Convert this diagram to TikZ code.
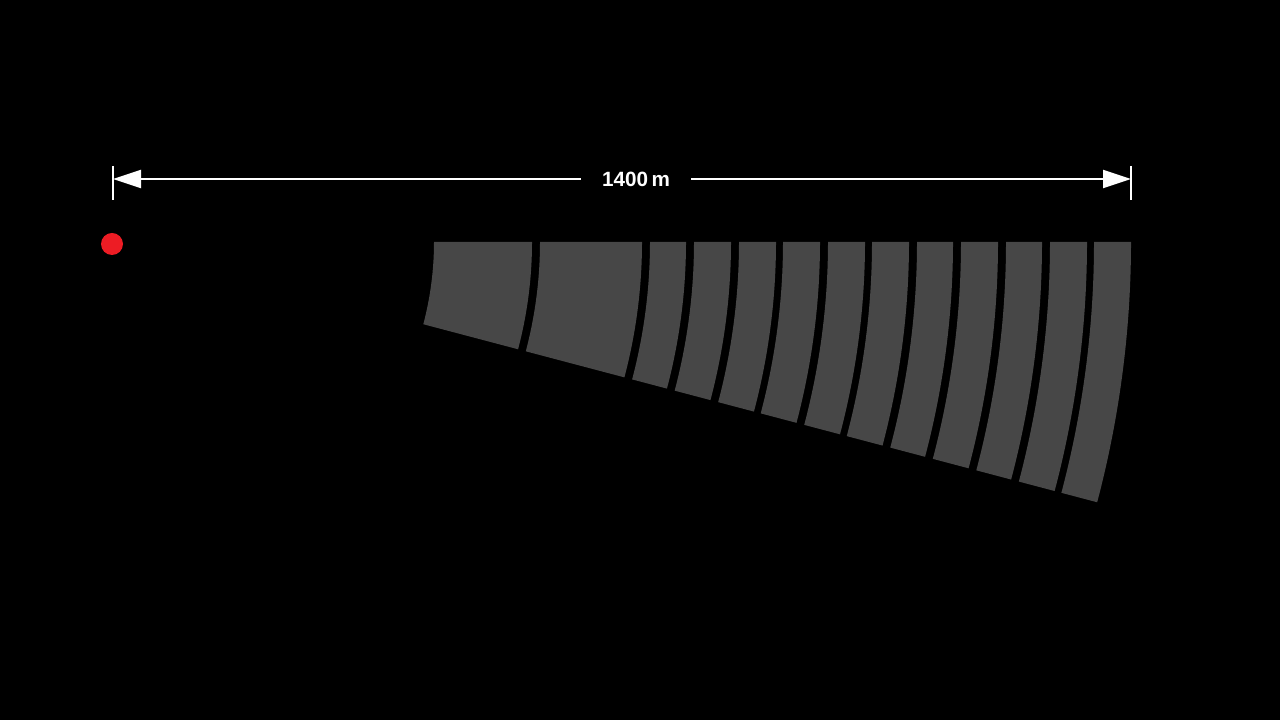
\documentclass[tikz,border=0pt]{standalone}
\usepackage{fontspec}
\setsansfont{Liberation Sans}
\usepackage{tikz}
\usetikzlibrary{arrows.meta,calc}
\definecolor{ringgray}{RGB}{71,71,71}
\definecolor{siteRed}{RGB}{237,28,36}

\begin{document}
\begin{tikzpicture}[x=0.75pt, y=0.75pt,
  dimline/.style={draw=white, line width=1.5pt},
  dimtip/.style={dimline, {Triangle[length=21pt,width=13.5pt]}-{Triangle[length=21pt,width=13.5pt]}},
  dimlabel/.style={fill=black, text=white, inner xsep=15.5pt, inner ysep=2pt, font=\sffamily\bfseries\fontsize{15.5}{18}\selectfont},
  ring/.style={fill=ringgray},
  site/.style={circle, fill=siteRed, minimum size=16.5pt, inner sep=0pt}]
% ---------------- background, fixes the page size
\fill[black] (0,0) rectangle (1280,720);
% ---------------- dimension line
\coordinate (dimL) at (113,541);
\coordinate (dimR) at (1131,541);
\draw[dimline] ($(dimL)+(0,13)$) -- ($(dimL)+(0,-21)$);
\draw[dimline] ($(dimR)+(0,13)$) -- ($(dimR)+(0,-21)$);
\draw[dimtip] (dimL) -- (dimR);
\node[dimlabel] (dimtxt) at (636,541) {1400\,m};
% ---------------- source point
\node[site] (src) at (112,476) {};
% ---------------- ring segments round the source
\coordinate (ctr) at (112,478);
\def\ang{14.8}
\foreach \ri/\ro in {322/420, 428/530, 538/574, 582/619, 627/664, 671/708, 716/753,
                     760/797, 805/841, 849/886, 894/930, 938/975, 982/1019}{
  \fill[ring] ($(ctr)+(0:\ri)$) arc[start angle=0, end angle=-\ang, radius=\ri]
    -- ($(ctr)+(-\ang:\ro)$) arc[start angle=-\ang, end angle=0, radius=\ro] -- cycle;
}
\end{tikzpicture}
\end{document}
